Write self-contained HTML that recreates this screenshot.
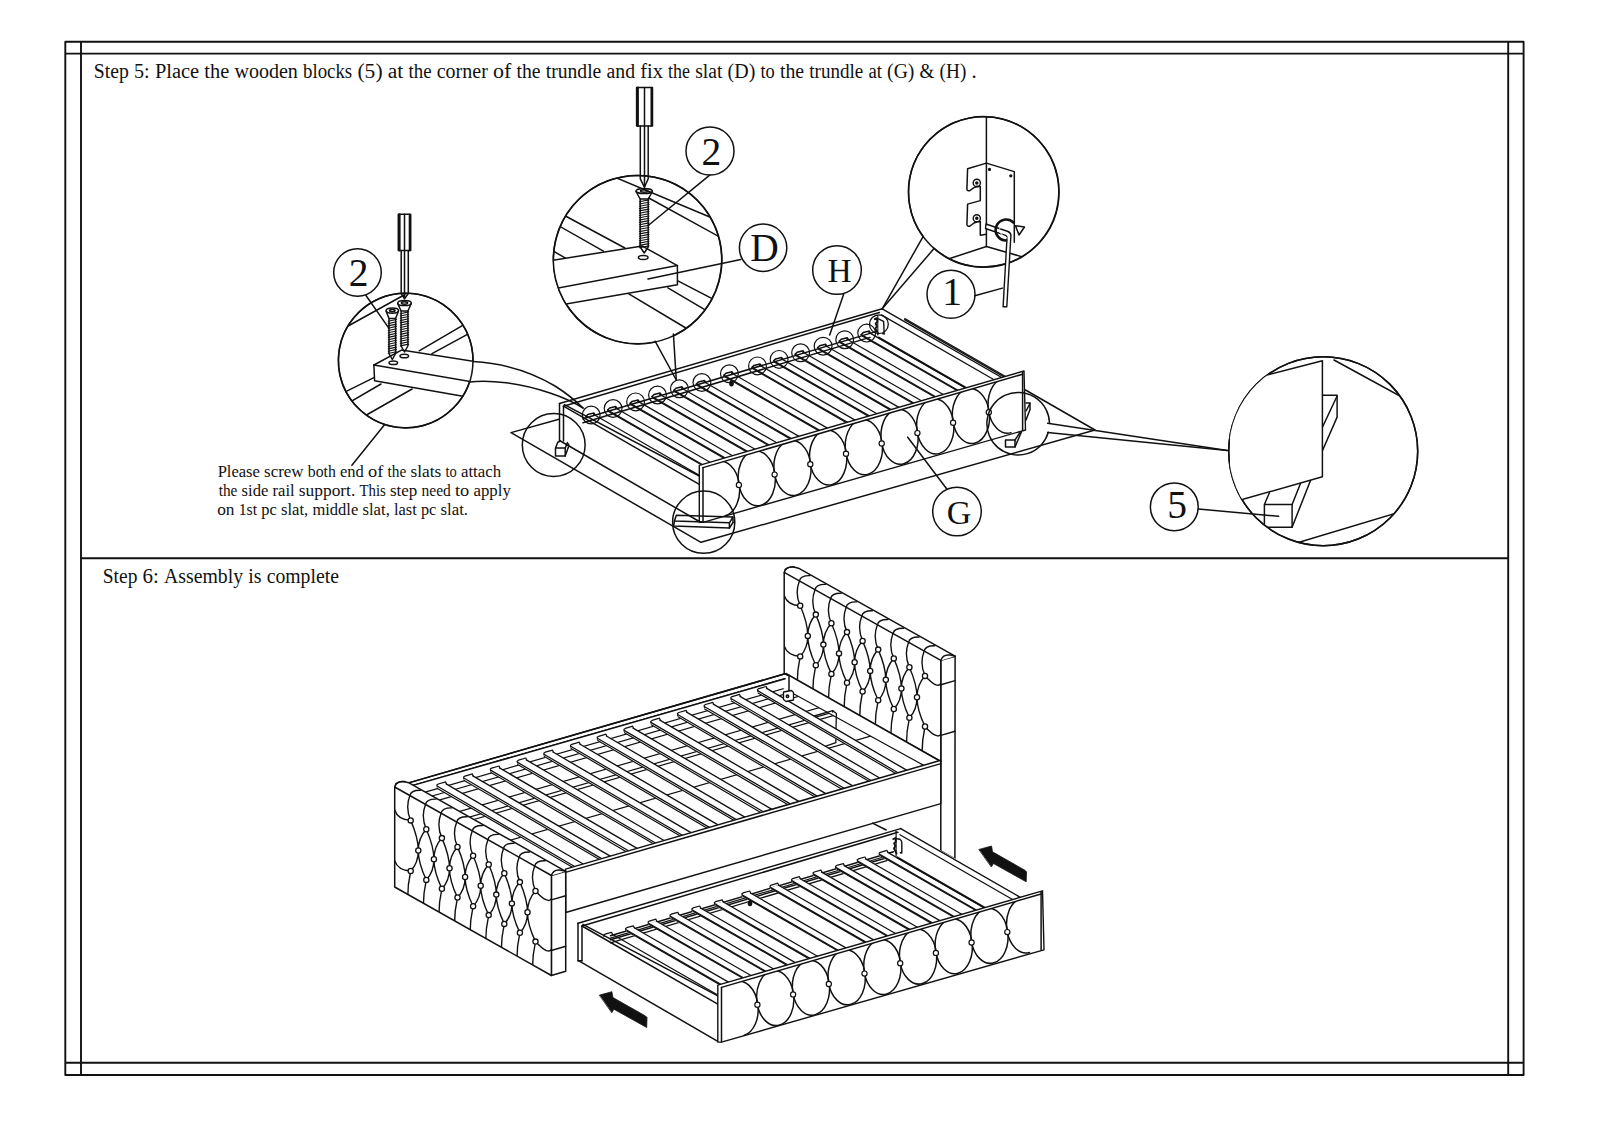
<!DOCTYPE html>
<html><head><meta charset="utf-8"><title>Assembly Step 5-6</title>
<style>
html,body{margin:0;padding:0;background:#fff;}
body{width:1600px;height:1130px;overflow:hidden;position:relative;}
svg{position:absolute;left:0;top:0;}
svg text{font-family:"Liberation Serif",serif;fill:#111;}
.t{font-size:19.8px;}
.s{font-size:16.5px;}
.c{font-size:39.5px;text-anchor:middle;}
</style></head>
<body>
<svg width="1600" height="1130" viewBox="0 0 1600 1130" fill="none" stroke="#111" stroke-width="1.5" stroke-linejoin="round" stroke-linecap="round">
<!-- FRAME -->
<g stroke-width="1.9" stroke-linecap="butt">
<rect x="65.3" y="41.8" width="1458.3" height="1033.2"/>
<line x1="81" y1="41.8" x2="81" y2="1075"/>
<line x1="1508.2" y1="41.8" x2="1508.2" y2="1075"/>
<line x1="65.3" y1="53.6" x2="1523.6" y2="53.6"/>
<line x1="65.3" y1="1062.8" x2="1523.6" y2="1062.8"/>
<line x1="81" y1="558.3" x2="1508.2" y2="558.3"/>
</g>
<!-- TEXT -->
<g stroke="none">
<text class="c" x="358.5" y="285.5">2</text>
<text class="c" x="711.3" y="164.6">2</text>
<text class="c" x="764.4" y="260.8">D</text>
<text class="c" x="839.5" y="281.7" style="font-size:33.5px">H</text>
<text class="c" x="952" y="305.3">1</text>
<text class="c" x="959" y="523.6" style="font-size:34px">G</text>
<text class="c" x="1177" y="518.4">5</text>
</g>
<!-- CALLOUT CIRCLES -->
<circle cx="357.5" cy="272.5" r="23.8"/>
<circle cx="710" cy="151" r="24"/>
<circle cx="763.1" cy="247.7" r="23.7"/>
<circle cx="837" cy="270" r="24.3"/>
<circle cx="951" cy="294.3" r="24"/>
<circle cx="957" cy="511.5" r="24.3"/>
<circle cx="1174.3" cy="506.8" r="23.9"/>
<!-- DETAIL CIRCLES -->
<circle cx="405.7" cy="360.5" r="67.3"/>
<circle cx="637.7" cy="259.6" r="84.2"/>
<circle cx="983.8" cy="192" r="75.2"/>
<circle cx="1323.2" cy="451.2" r="94.5"/>
<g id="texts">
<g stroke="none">
<text class="t" y="78.4" style="font-size:20.8px"><tspan x="93.8" textLength="35.00" lengthAdjust="spacingAndGlyphs">Step</tspan><tspan x="134.0" textLength="15.70" lengthAdjust="spacingAndGlyphs">5:</tspan><tspan x="154.9" textLength="44.20" lengthAdjust="spacingAndGlyphs">Place</tspan><tspan x="204.3" textLength="24.90" lengthAdjust="spacingAndGlyphs">the</tspan><tspan x="234.4" textLength="63.50" lengthAdjust="spacingAndGlyphs">wooden</tspan><tspan x="303.1" textLength="49.10" lengthAdjust="spacingAndGlyphs">blocks</tspan><tspan x="357.4" textLength="25.20" lengthAdjust="spacingAndGlyphs">(5)</tspan><tspan x="387.8" textLength="15.50" lengthAdjust="spacingAndGlyphs">at</tspan><tspan x="408.5" textLength="23.05" lengthAdjust="spacingAndGlyphs">the</tspan><tspan x="436.75" textLength="51.05" lengthAdjust="spacingAndGlyphs">corner</tspan><tspan x="493.0" textLength="18.30" lengthAdjust="spacingAndGlyphs">of</tspan><tspan x="516.5" textLength="24.05" lengthAdjust="spacingAndGlyphs">the</tspan><tspan x="545.75" textLength="55.55" lengthAdjust="spacingAndGlyphs">trundle</tspan><tspan x="606.5" textLength="28.55" lengthAdjust="spacingAndGlyphs">and</tspan><tspan x="640.25" textLength="22.65" lengthAdjust="spacingAndGlyphs">fix</tspan><tspan x="668.1" textLength="21.95" lengthAdjust="spacingAndGlyphs">the</tspan><tspan x="695.25" textLength="27.15" lengthAdjust="spacingAndGlyphs">slat</tspan><tspan x="727.6" textLength="27.70" lengthAdjust="spacingAndGlyphs">(D)</tspan><tspan x="760.5" textLength="14.30" lengthAdjust="spacingAndGlyphs">to</tspan><tspan x="780.0" textLength="24.10" lengthAdjust="spacingAndGlyphs">the</tspan><tspan x="809.3" textLength="53.90" lengthAdjust="spacingAndGlyphs">trundle</tspan><tspan x="868.4" textLength="13.50" lengthAdjust="spacingAndGlyphs">at</tspan><tspan x="887.1" textLength="27.30" lengthAdjust="spacingAndGlyphs">(G)</tspan><tspan x="919.6" textLength="14.80" lengthAdjust="spacingAndGlyphs">&amp;</tspan><tspan x="939.6" textLength="26.70" lengthAdjust="spacingAndGlyphs">(H)</tspan><tspan x="971.5">.</tspan></text>
<text class="t" y="583.3" style="font-size:20.8px"><tspan x="102.8" textLength="34.60" lengthAdjust="spacingAndGlyphs">Step</tspan><tspan x="142.6" textLength="16.30" lengthAdjust="spacingAndGlyphs">6:</tspan><tspan x="164.1" textLength="79.00" lengthAdjust="spacingAndGlyphs">Assembly</tspan><tspan x="248.3" textLength="13.20" lengthAdjust="spacingAndGlyphs">is</tspan><tspan x="266.7" textLength="72.2" lengthAdjust="spacingAndGlyphs">complete</tspan></text>
<text class="s" y="477.2" style="font-size:16.8px"><tspan x="217.7" textLength="42.20" lengthAdjust="spacingAndGlyphs">Please</tspan><tspan x="264.1" textLength="39.45" lengthAdjust="spacingAndGlyphs">screw</tspan><tspan x="307.75" textLength="28.05" lengthAdjust="spacingAndGlyphs">both</tspan><tspan x="340.0" textLength="23.80" lengthAdjust="spacingAndGlyphs">end</tspan><tspan x="368.0" textLength="15.30" lengthAdjust="spacingAndGlyphs">of</tspan><tspan x="387.5" textLength="18.80" lengthAdjust="spacingAndGlyphs">the</tspan><tspan x="410.5" textLength="30.80" lengthAdjust="spacingAndGlyphs">slats</tspan><tspan x="445.5" textLength="11.30" lengthAdjust="spacingAndGlyphs">to</tspan><tspan x="461.0">attach</tspan></text>
<text class="s" y="496.3" style="font-size:16.8px"><tspan x="218.7" textLength="18.70" lengthAdjust="spacingAndGlyphs">the</tspan><tspan x="241.6" textLength="26.70" lengthAdjust="spacingAndGlyphs">side</tspan><tspan x="272.5" textLength="22.10" lengthAdjust="spacingAndGlyphs">rail</tspan><tspan x="298.8" textLength="56.50" lengthAdjust="spacingAndGlyphs">support.</tspan><tspan x="359.5" textLength="26.30" lengthAdjust="spacingAndGlyphs">This</tspan><tspan x="390.0" textLength="27.30" lengthAdjust="spacingAndGlyphs">step</tspan><tspan x="421.5" textLength="29.30" lengthAdjust="spacingAndGlyphs">need</tspan><tspan x="455.0" textLength="14.30" lengthAdjust="spacingAndGlyphs">to</tspan><tspan x="473.5">apply</tspan></text>
<text class="s" y="514.8" style="font-size:16.8px"><tspan x="217.2" textLength="17.30" lengthAdjust="spacingAndGlyphs">on</tspan><tspan x="238.7" textLength="18.40" lengthAdjust="spacingAndGlyphs">1st</tspan><tspan x="261.3" textLength="15.50" lengthAdjust="spacingAndGlyphs">pc</tspan><tspan x="281.0" textLength="27.20" lengthAdjust="spacingAndGlyphs">slat,</tspan><tspan x="312.4" textLength="45.90" lengthAdjust="spacingAndGlyphs">middle</tspan><tspan x="362.5" textLength="27.30" lengthAdjust="spacingAndGlyphs">slat,</tspan><tspan x="394.0" textLength="22.80" lengthAdjust="spacingAndGlyphs">last</tspan><tspan x="421.0" textLength="15.30" lengthAdjust="spacingAndGlyphs">pc</tspan><tspan x="440.5">slat.</tspan></text>
</g>
</g>
<g id="top_details">
<clipPath id="cl1"><circle cx="405.7" cy="360.5" r="67"/></clipPath>
<g clip-path="url(#cl1)">
<line x1="340.0" y1="330.5" x2="405.0" y2="294.5"/>
<line x1="470.0" y1="321.2" x2="419.2" y2="350.8"/>
<line x1="472.0" y1="331.8" x2="432.0" y2="353.6"/>
<line x1="335.0" y1="397.0" x2="373.9" y2="377.7"/>
<line x1="340.0" y1="407.8" x2="381.0" y2="384.0"/>
<line x1="355.0" y1="421.5" x2="412.1" y2="389.0"/>
<path d="M373.9,365.0 L401.5,350.1 L480.0,362.3"/>
<path d="M373.9,365.0 L374.6,380.8 L470.0,397.6"/>
<line x1="373.9" y1="365.0" x2="480.0" y2="383.2"/>
</g>
<path d="M469.5,382.0 A67.3,67.3 0 1 1 473.0,361.5"/>
<path d="M473,361.5 C500,363 530,371 555,386 C566,393 577,402 583,408"/>
<path d="M469.5,382 C490,379.5 520,383 550,393 C562,397 575,403 583,408"/>
<ellipse cx="392.3" cy="310.6" rx="6.2" ry="2.6"/>
<ellipse cx="392.3" cy="310.6" rx="2.8" ry="1.2"/>
<path d="M386.1,311.1 L389.0,318.6 L395.6,318.6 L398.5,311.1"/>
<path d="M389.0,318.6 L389.0,353.5 L392.3,359.5 L395.6,353.5 L395.6,318.6"/>
<path d="M388.2,321.3 L396.4,319.5 M388.2,323.6 L396.4,321.8 M388.2,325.9 L396.4,324.1 M388.2,328.2 L396.4,326.4 M388.2,330.5 L396.4,328.7 M388.2,332.8 L396.4,331.0 M388.2,335.1 L396.4,333.3 M388.2,337.4 L396.4,335.6 M388.2,339.7 L396.4,337.9 M388.2,342.0 L396.4,340.2 M388.2,344.3 L396.4,342.5 M388.2,346.6 L396.4,344.8 M388.2,348.9 L396.4,347.1 M388.2,351.2 L396.4,349.4 M388.2,353.5 L396.4,351.7 " stroke-width="1.1"/>
<ellipse cx="404.5" cy="303.0" rx="6.8" ry="2.6"/>
<ellipse cx="404.5" cy="303.0" rx="3.1" ry="1.2"/>
<path d="M397.7,303.5 L401.1,311.0 L407.9,311.0 L411.3,303.5"/>
<path d="M401.1,311.0 L401.1,346.0 L404.5,352.0 L407.9,346.0 L407.9,311.0"/>
<path d="M400.3,313.7 L408.7,311.9 M400.3,316.0 L408.7,314.2 M400.3,318.3 L408.7,316.5 M400.3,320.6 L408.7,318.8 M400.3,322.9 L408.7,321.1 M400.3,325.2 L408.7,323.4 M400.3,327.5 L408.7,325.7 M400.3,329.8 L408.7,328.0 M400.3,332.1 L408.7,330.3 M400.3,334.4 L408.7,332.6 M400.3,336.7 L408.7,334.9 M400.3,339.0 L408.7,337.2 M400.3,341.3 L408.7,339.5 M400.3,343.6 L408.7,341.8 M400.3,345.9 L408.7,344.1 " stroke-width="1.1"/>
<ellipse cx="393.3" cy="362.8" rx="4.3" ry="1.8"/>
<ellipse cx="404.3" cy="356.0" rx="4.3" ry="1.8"/>
<rect x="398.3" y="214.3" width="12.4" height="36.3" stroke-width="1.5"/>
<line x1="399.6" y1="214.3" x2="399.6" y2="250.6" stroke-width="2"/>
<line x1="409.5" y1="214.3" x2="409.5" y2="250.6" stroke-width="1.6"/>
<line x1="404.5" y1="214.3" x2="404.5" y2="250.6"/>
<path d="M401.2,250.6 L401.2,293.5 L404.5,298.8 L408.3,293.5 L408.3,250.6"/>
<line x1="404.5" y1="250.6" x2="404.5" y2="297.8"/>
<line x1="365.8" y1="295.3" x2="388.8" y2="328.1"/>
<line x1="384.5" y1="424.8" x2="351.9" y2="465.3"/>
<clipPath id="cl2"><circle cx="637.7" cy="259.6" r="84"/></clipPath>
<g clip-path="url(#cl2)">
<line x1="600.0" y1="171.0" x2="730.0" y2="225.5"/>
<line x1="648.8" y1="198.0" x2="725.0" y2="239.9"/>
<line x1="558.0" y1="212.0" x2="624.9" y2="248.0"/>
<line x1="550.0" y1="220.8" x2="603.4" y2="251.2"/>
<line x1="548.0" y1="248.0" x2="565.9" y2="258.4"/>
<line x1="628.0" y1="293.4" x2="690.0" y2="330.5"/>
<line x1="667.9" y1="287.9" x2="712.0" y2="313.8"/>
<line x1="677.4" y1="280.7" x2="716.0" y2="300.7"/>
<path d="M540.0,262.2 L642.4,246.1 L677.4,265.6 L677.4,284.7 L540.0,308.5" fill="#fff"/>
<line x1="545.0" y1="290.5" x2="677.4" y2="265.6"/>
</g>
<path d="M655.2,342.0 A84.2,84.2 0 1 1 674.1,335.5"/>
<line x1="655.1" y1="341.2" x2="676.3" y2="380.0"/>
<line x1="673.4" y1="334.1" x2="676.3" y2="380.0"/>
<ellipse cx="643.2" cy="257.6" rx="4.8" ry="2.0"/>
<line x1="648.0" y1="279.1" x2="740.8" y2="259.4"/>
<line x1="709.7" y1="175.2" x2="648.8" y2="225.0"/>
<ellipse cx="644.2" cy="191.0" rx="8.2" ry="2.6"/>
<ellipse cx="644.2" cy="191.0" rx="3.7" ry="1.2"/>
<path d="M636.0,191.5 L640.2,199.0 L648.2,199.0 L652.4,191.5"/>
<path d="M640.2,199.0 L640.2,247.0 L644.2,253.0 L648.2,247.0 L648.2,199.0"/>
<path d="M639.4,201.7 L649.0,199.9 M639.4,204.0 L649.0,202.2 M639.4,206.3 L649.0,204.5 M639.4,208.6 L649.0,206.8 M639.4,210.9 L649.0,209.1 M639.4,213.2 L649.0,211.4 M639.4,215.5 L649.0,213.7 M639.4,217.8 L649.0,216.0 M639.4,220.1 L649.0,218.3 M639.4,222.4 L649.0,220.6 M639.4,224.7 L649.0,222.9 M639.4,227.0 L649.0,225.2 M639.4,229.3 L649.0,227.5 M639.4,231.6 L649.0,229.8 M639.4,233.9 L649.0,232.1 M639.4,236.2 L649.0,234.4 M639.4,238.5 L649.0,236.7 M639.4,240.8 L649.0,239.0 M639.4,243.1 L649.0,241.3 M639.4,245.4 L649.0,243.6 M639.4,247.7 L649.0,245.9 " stroke-width="1.1"/>
<rect x="636.6" y="87.6" width="15.9" height="38.3" stroke-width="1.5"/>
<line x1="637.9" y1="87.6" x2="637.9" y2="125.9" stroke-width="2"/>
<line x1="651.3" y1="87.6" x2="651.3" y2="125.9" stroke-width="1.6"/>
<line x1="644.5" y1="87.6" x2="644.5" y2="125.9"/>
<path d="M640.3,125.9 L640.3,178.8 L644.5,187.3 L648.2,178.8 L648.2,125.9"/>
<line x1="644.5" y1="125.9" x2="644.5" y2="186.3"/>
<path d="M923.3,236.7 A75.2,75.2 0 1 1 934.1,248.4"/>
<line x1="922.8" y1="237.1" x2="882.2" y2="308.8"/>
<line x1="933.8" y1="248.8" x2="882.2" y2="308.8"/>
<clipPath id="cl3"><circle cx="983.8" cy="192" r="75"/></clipPath>
<g clip-path="url(#cl3)">
<line x1="986.4" y1="110.0" x2="986.4" y2="246.5"/>
<line x1="986.4" y1="246.5" x2="930.0" y2="265.0"/>
<line x1="986.4" y1="246.5" x2="1040.0" y2="262.0"/>
</g>
<path d="M986.4,163.1 L967.6,168.7 L966.9,189.2 Q967.5,191.5 970,190.5 L974,187.6 Q977,186.2 980.3,186.4 L980.3,200.6 L967.6,204.1 L966.9,224.6 Q967.5,227 970,226 L974,223 Q977,221.6 980.3,221.6 L980.3,235.2 L986.4,234.2" stroke-width="1.5"/>
<path d="M986.4,163.1 L1014.3,171.6 L1014.3,242.3" stroke-width="1.5"/>
<circle cx="976.8" cy="182.9" r="3.6" stroke-width="1.4"/>
<circle cx="976.8" cy="182.9" r="1.0" fill="#111"/>
<circle cx="976.8" cy="218.3" r="3.6" stroke-width="1.4"/>
<circle cx="976.8" cy="218.3" r="1.0" fill="#111"/>
<circle cx="989.5" cy="169.4" r="0.9" fill="#111"/>
<circle cx="1010.8" cy="175.8" r="0.9" fill="#111"/>
<path d="M986,224 L1008,231.5 Q1011.5,233 1010.8,237 L1006.8,306.8 L1003.1,306.8 L1007,238 Q1007.2,236 1005.5,235.3 L985.5,228.5 Z" fill="#fff" stroke-width="1.4"/>
<path d="M1013.5,222.5 A10.5,10.5 0 1 0 1006,240.5" stroke-width="2.6"/>
<path d="M1011.5,225.5 Q1003,223 999,229.5 Q1001,236 1007,238" stroke="#fff" stroke-width="1.0"/>
<path d="M1015.5,225.8 L1024.5,227 L1019,235 Z" fill="#fff" stroke-width="1.5"/>
<line x1="974.8" y1="295.8" x2="1002.4" y2="288.1"/>
<circle cx="1323.2" cy="451.2" r="94.5"/>
<clipPath id="cl4"><circle cx="1323.2" cy="451.2" r="94.3"/></clipPath>
<g clip-path="url(#cl4)">
<line x1="1334.0" y1="360.0" x2="1420.0" y2="407.0"/>
<line x1="1290.0" y1="545.0" x2="1430.0" y2="503.0"/>
<path d="M1269.4,492.8 L1264.4,504.5 L1264.4,527.2 L1292.1,527.2 L1292.1,504.5 L1264.4,504.5"/>
<line x1="1292.1" y1="504.5" x2="1300.5" y2="483.5"/>
<line x1="1292.1" y1="527.2" x2="1310.6" y2="480.2"/>
<path d="M1322.4,395.3 L1337.1,395.3 L1337.1,417.1 L1322.4,450.8"/>
<line x1="1337.1" y1="396.0" x2="1322.4" y2="427.2"/>
<path d="M1230.0,384.5 L1322.4,360.8 L1322.4,476.8 L1230.0,503.0" fill="#fff"/>
</g>
<line x1="1047.6" y1="423.3" x2="1227.5" y2="450.5"/>
<line x1="1047.6" y1="432.4" x2="1227.5" y2="450.5"/>
<line x1="1198.2" y1="508.9" x2="1278.7" y2="516.3"/>
</g>
<g id="top_bed">
<path d="M559.0,419.2 L511.0,432.6 L701.0,542.3 L1095.0,430.0 L1025.5,390.0"/>
<line x1="559.5" y1="403.5" x2="882.2" y2="308.8"/>
<line x1="563.5" y1="406.2" x2="879.4" y2="312.5"/>
<line x1="559.5" y1="403.5" x2="559.5" y2="441.0"/>
<line x1="563.5" y1="406.2" x2="563.5" y2="441.0"/>
<path d="M555.5,448.1 L555.5,456.1 L565.2,456.1 L565.2,448.1 L555.5,448.1 L557.8,442.2 L560.4,441.0"/>
<path d="M565.2,456.1 L568.6,446.5 L568.6,444.0"/>
<line x1="565.2" y1="448.1" x2="567.5" y2="442.5"/>
<line x1="563.5" y1="406.2" x2="699.3" y2="484.3"/>
<line x1="564.4" y1="404.6" x2="699.3" y2="476.0"/>
<line x1="560.4" y1="441.0" x2="699.3" y2="521.5"/>
<line x1="583.0" y1="418.7" x2="875.0" y2="331.9"/>
<line x1="583.0" y1="422.7" x2="870.0" y2="337.4"/>
<line x1="593.8" y1="414.5" x2="699.3" y2="475.2" stroke-width="1.25"/>
<path d="M585.8,416.5 L587.8,414.5 L593.8,413.0 L594.8,414.5 L593.8,414.5"/>
<circle cx="591.2" cy="415.0" r="8.9" stroke-width="1.2"/>
<line x1="615.6" y1="408.0" x2="710.0" y2="462.3" stroke-width="1.25"/>
<line x1="607.6" y1="410.0" x2="702.3" y2="464.5" stroke-width="1.25"/>
<line x1="608.5" y1="411.4" x2="701.3" y2="464.8" stroke-width="1.25"/>
<path d="M607.6,410.0 L609.6,408.0 L615.6,406.5 L616.6,408.0 L615.6,408.0"/>
<circle cx="613.1" cy="408.5" r="8.9" stroke-width="1.2"/>
<line x1="638.1" y1="401.4" x2="732.5" y2="455.7" stroke-width="1.25"/>
<line x1="630.1" y1="403.4" x2="724.9" y2="457.9" stroke-width="1.25"/>
<line x1="631.0" y1="404.8" x2="723.9" y2="458.2" stroke-width="1.25"/>
<path d="M630.1,403.4 L632.1,401.4 L638.1,399.9 L639.1,401.4 L638.1,401.4"/>
<circle cx="635.6" cy="401.9" r="8.9" stroke-width="1.2"/>
<line x1="660.0" y1="394.5" x2="755.1" y2="449.2" stroke-width="1.25"/>
<line x1="652.0" y1="396.5" x2="747.4" y2="451.4" stroke-width="1.25"/>
<line x1="652.9" y1="397.9" x2="746.4" y2="451.7" stroke-width="1.25"/>
<path d="M652.0,396.5 L654.0,394.5 L660.0,393.0 L661.0,394.5 L660.0,394.5"/>
<circle cx="657.5" cy="395.0" r="8.9" stroke-width="1.2"/>
<line x1="681.9" y1="388.2" x2="776.8" y2="442.8" stroke-width="1.25"/>
<line x1="673.9" y1="390.2" x2="769.2" y2="445.0" stroke-width="1.25"/>
<line x1="674.8" y1="391.6" x2="768.2" y2="445.3" stroke-width="1.25"/>
<path d="M673.9,390.2 L675.9,388.2 L681.9,386.8 L682.9,388.2 L681.9,388.2"/>
<circle cx="679.4" cy="388.8" r="8.9" stroke-width="1.2"/>
<line x1="704.4" y1="382.0" x2="799.0" y2="436.4" stroke-width="1.25"/>
<line x1="696.4" y1="384.0" x2="791.4" y2="438.6" stroke-width="1.25"/>
<line x1="697.3" y1="385.4" x2="790.3" y2="438.9" stroke-width="1.25"/>
<path d="M696.4,384.0 L698.4,382.0 L704.4,380.5 L705.4,382.0 L704.4,382.0"/>
<circle cx="701.9" cy="382.5" r="8.9" stroke-width="1.2"/>
<line x1="731.9" y1="373.2" x2="827.4" y2="428.1" stroke-width="1.25"/>
<line x1="723.9" y1="375.2" x2="819.7" y2="430.4" stroke-width="1.25"/>
<line x1="724.8" y1="376.6" x2="818.7" y2="430.7" stroke-width="1.25"/>
<path d="M723.9,375.2 L725.9,373.2 L731.9,371.8 L732.9,373.2 L731.9,373.2"/>
<circle cx="729.4" cy="373.8" r="8.9" stroke-width="1.2"/>
<line x1="760.0" y1="365.4" x2="855.1" y2="420.1" stroke-width="1.25"/>
<line x1="752.0" y1="367.4" x2="847.5" y2="422.3" stroke-width="1.25"/>
<line x1="752.9" y1="368.8" x2="846.5" y2="422.6" stroke-width="1.25"/>
<path d="M752.0,367.4 L754.0,365.4 L760.0,363.9 L761.0,365.4 L760.0,365.4"/>
<circle cx="757.5" cy="365.9" r="8.9" stroke-width="1.2"/>
<line x1="781.6" y1="358.9" x2="877.0" y2="413.7" stroke-width="1.25"/>
<line x1="773.6" y1="360.9" x2="869.3" y2="415.9" stroke-width="1.25"/>
<line x1="774.5" y1="362.3" x2="868.3" y2="416.2" stroke-width="1.25"/>
<path d="M773.6,360.9 L775.6,358.9 L781.6,357.4 L782.6,358.9 L781.6,358.9"/>
<circle cx="779.1" cy="359.4" r="8.9" stroke-width="1.2"/>
<line x1="803.1" y1="352.3" x2="898.9" y2="407.4" stroke-width="1.25"/>
<line x1="795.1" y1="354.3" x2="891.2" y2="409.6" stroke-width="1.25"/>
<line x1="796.0" y1="355.7" x2="890.2" y2="409.9" stroke-width="1.25"/>
<path d="M795.1,354.3 L797.1,352.3 L803.1,350.8 L804.1,352.3 L803.1,352.3"/>
<circle cx="800.6" cy="352.8" r="8.9" stroke-width="1.2"/>
<line x1="825.6" y1="345.8" x2="921.4" y2="400.8" stroke-width="1.25"/>
<line x1="817.6" y1="347.8" x2="913.8" y2="403.0" stroke-width="1.25"/>
<line x1="818.5" y1="349.1" x2="912.7" y2="403.3" stroke-width="1.25"/>
<path d="M817.6,347.8 L819.6,345.8 L825.6,344.2 L826.6,345.8 L825.6,345.8"/>
<circle cx="823.1" cy="346.2" r="8.9" stroke-width="1.2"/>
<line x1="847.2" y1="339.2" x2="943.3" y2="394.5" stroke-width="1.25"/>
<line x1="839.2" y1="341.2" x2="935.7" y2="396.7" stroke-width="1.25"/>
<line x1="840.1" y1="342.6" x2="934.6" y2="397.0" stroke-width="1.25"/>
<path d="M839.2,341.2 L841.2,339.2 L847.2,337.7 L848.2,339.2 L847.2,339.2"/>
<circle cx="844.7" cy="339.7" r="8.9" stroke-width="1.2"/>
<line x1="869.2" y1="332.6" x2="965.5" y2="388.0" stroke-width="1.25"/>
<line x1="861.2" y1="334.6" x2="957.9" y2="390.2" stroke-width="1.25"/>
<line x1="862.1" y1="336.0" x2="956.9" y2="390.5" stroke-width="1.25"/>
<path d="M861.2,334.6 L863.2,332.6 L869.2,331.1 L870.2,332.6 L869.2,332.6"/>
<circle cx="866.7" cy="333.1" r="8.9" stroke-width="1.2"/>
<ellipse cx="731.5" cy="383.5" rx="1.6" ry="2.2" fill="#111"/>
<circle cx="878.9" cy="324.2" r="9.4" stroke-width="1.3"/>
<path d="M874.8,319.2 L876.9,318.2 L877.3,321.8 L875.6,323.6 L876.9,326.2 L875.4,328.6 L877,331.5 L878,333.5" stroke-width="1.9"/>
<path d="M878.4,318.9 L883.6,321.3 L884.2,334 L882.4,333.6" stroke-width="1.4"/>
<line x1="877.8" y1="315.5" x2="877.8" y2="335.0" stroke-width="1.1"/>
<line x1="882.2" y1="308.8" x2="1001.7" y2="377.5" stroke-width="1.4"/>
<line x1="904.6" y1="319.7" x2="1004.0" y2="376.8" stroke-width="1.4"/>
<line x1="904.8" y1="318.4" x2="1005.6" y2="376.4" stroke-width="1.2"/>
<line x1="881.4" y1="314.9" x2="994.1" y2="379.7" stroke-width="1.3"/>
<line x1="878.7" y1="337.6" x2="966.1" y2="387.8" stroke-width="2.0"/>
<line x1="843.8" y1="293.8" x2="829.7" y2="335.0"/>
<path d="M699.3,465.3 L1024.0,371.0 L1025.5,430.0 L703.0,522.3 L699.3,522.3 Z" fill="#fff" stroke-width="1.4"/>
<line x1="703.0" y1="467.6" x2="1022.6" y2="374.2"/>
<line x1="703.0" y1="467.6" x2="703.0" y2="522.0"/>
<line x1="1022.6" y1="372.5" x2="1022.6" y2="430.3"/>
<clipPath id="fpclip"><path d="M703,467.6 L1022.6,374.2 L1025.5,430 L702.5,522.3 Z"/></clipPath>
<g clip-path="url(#fpclip)">
<path d="M0,-1 A1,1 0 0 1 0,1" transform="matrix(18.1,-5.26,4.35,27.0,721.05,488.64)" vector-effect="non-scaling-stroke"/>
<path d="M0,-1 A1,1 0 0 1 0,1 A1,1 0 0 1 0,-1" transform="matrix(18.1,-5.26,4.35,27.0,756.75,478.26)" vector-effect="non-scaling-stroke"/>
<path d="M0,-1 A1,1 0 0 1 0,1 A1,1 0 0 1 0,-1" transform="matrix(18.1,-5.26,4.35,27.0,792.45,467.89)" vector-effect="non-scaling-stroke"/>
<path d="M0,-1 A1,1 0 0 1 0,1 A1,1 0 0 1 0,-1" transform="matrix(18.1,-5.26,4.35,27.0,828.15,457.51)" vector-effect="non-scaling-stroke"/>
<path d="M0,-1 A1,1 0 0 1 0,1 A1,1 0 0 1 0,-1" transform="matrix(18.1,-5.26,4.35,27.0,863.85,447.14)" vector-effect="non-scaling-stroke"/>
<path d="M0,-1 A1,1 0 0 1 0,1 A1,1 0 0 1 0,-1" transform="matrix(18.1,-5.26,4.35,27.0,899.55,436.77)" vector-effect="non-scaling-stroke"/>
<path d="M0,-1 A1,1 0 0 1 0,1 A1,1 0 0 1 0,-1" transform="matrix(18.1,-5.26,4.35,27.0,935.25,426.39)" vector-effect="non-scaling-stroke"/>
<path d="M0,-1 A1,1 0 0 1 0,1 A1,1 0 0 1 0,-1" transform="matrix(18.1,-5.26,4.35,27.0,970.95,416.02)" vector-effect="non-scaling-stroke"/>
<path d="M0,1 A1,1 0 0 1 0,-1" transform="matrix(18.1,-5.26,4.35,27.0,1006.65,405.64)" vector-effect="non-scaling-stroke"/>
</g>
<circle cx="738.9" cy="484.9" r="2.6" fill="#fff" stroke-width="1.2"/>
<circle cx="774.6" cy="474.6" r="2.6" fill="#fff" stroke-width="1.2"/>
<circle cx="810.3" cy="464.2" r="2.6" fill="#fff" stroke-width="1.2"/>
<circle cx="846.0" cy="453.8" r="2.6" fill="#fff" stroke-width="1.2"/>
<circle cx="881.7" cy="443.4" r="2.6" fill="#fff" stroke-width="1.2"/>
<circle cx="917.4" cy="433.1" r="2.6" fill="#fff" stroke-width="1.2"/>
<circle cx="953.1" cy="422.7" r="2.6" fill="#fff" stroke-width="1.2"/>
<circle cx="988.8" cy="412.3" r="2.6" fill="#fff" stroke-width="1.2"/>
<line x1="907.7" y1="437.2" x2="946.8" y2="489.0"/>
<path d="M674.5,521.0 L676.3,515.3 L732.9,517.1 L729.4,522.8 L674.5,521.0"/>
<path d="M674.5,521.0 L673.6,525.9 L729.4,528.1 L729.4,522.8"/>
<line x1="729.4" y1="528.1" x2="733.0" y2="522.5"/>
<line x1="733.0" y1="522.5" x2="732.9" y2="517.1"/>
<path d="M1005.5,440.0 L1005.5,447.0 L1015.0,447.0 L1015.0,440.0 L1005.5,440.0" fill="#fff"/>
<line x1="1015.0" y1="440.0" x2="1020.0" y2="432.5"/>
<line x1="1015.0" y1="447.0" x2="1021.3" y2="432.3"/>
<path d="M1026.0,403.0 L1030.0,403.0 L1030.0,409.5 L1026.0,420.0"/>
<line x1="1030.0" y1="403.5" x2="1026.0" y2="411.0"/>
<circle cx="553.7" cy="445.0" r="31.4"/>
<circle cx="703.7" cy="522.2" r="31.1"/>
<path d="M1048.3,432.3 A31.3,31.3 0 1 1 1049.5,423.0"/>
</g>
<g id="bottom_bed">
<path d="M940.8,660.4 L955.1,656.2 L954.9,859.0 L940.8,851.0 Z" fill="#fff"/>
<line x1="940.8" y1="684.8" x2="955.1" y2="680.6"/>
<line x1="940.8" y1="735.4" x2="955.1" y2="731.2"/>
<path d="M784.2,572.4 L786.2,566.4 L793.7,567.1 L798.5,568.2 L955.1,656.2 L940.8,660.4 Z" fill="#fff" stroke="none"/>
<path d="M784.2,572.4 L940.8,660.4 L940.8,761.4 L784.2,673.4 Z" fill="#fff"/>
<path d="M784.2,572.4 Q786.2,565.9 793.7,567.1 L798.5,568.2 L955.1,656.2"/>
<clipPath id="hbc"><path d="M784.2,558.4 L956.1,642.2 L955.1,656.2 L940.8,660.4 L940.8,761.4 L784.2,673.4 Z"/></clipPath>
<g clip-path="url(#hbc)">
<path d="M783.8,572.2 Q784.8,566.7 794.4,566.9 M799.4,580.9 Q800.4,575.4 810.0,575.6 M815.0,589.7 Q816.0,584.2 825.6,584.4 M830.6,598.5 Q831.6,593.0 841.2,593.2 M846.2,607.2 Q847.2,601.7 856.8,601.9 M861.8,616.0 Q862.8,610.5 872.4,610.7 M877.4,624.8 Q878.4,619.3 888.0,619.5 M893.0,633.5 Q894.0,628.0 903.6,628.2 M908.6,642.3 Q909.6,636.8 919.2,637.0 M924.2,651.1 Q925.2,645.6 934.8,645.8 M799.4,580.9 Q794.6,593.4 800.2,605.8 M815.0,589.7 Q810.2,602.1 815.8,614.6 M830.6,598.5 Q825.8,610.9 831.4,623.3 M846.2,607.2 Q841.4,619.7 847.0,632.1 M861.8,616.0 Q857.0,628.4 862.6,640.9 M877.4,624.8 Q872.6,637.2 878.2,649.6 M893.0,633.5 Q888.2,646.0 893.8,658.4 M908.6,642.3 Q903.8,654.7 909.4,667.2 M924.2,651.1 Q919.4,663.5 925.0,675.9 M800.2,656.4 Q794.6,681.7 799.4,706.9 M815.8,665.2 Q810.2,690.4 815.0,715.7 M831.4,673.9 Q825.8,699.2 830.6,724.5 M847.0,682.7 Q841.4,708.0 846.2,733.2 M862.6,691.5 Q857.0,716.7 861.8,742.0 M878.2,700.2 Q872.6,725.5 877.4,750.8 M893.8,709.0 Q888.2,734.3 893.0,759.5 M909.4,717.8 Q903.8,743.0 908.6,768.3 M925.0,726.5 Q919.4,751.8 924.2,777.1 M800.2,605.8 Q815.4,640.6 800.2,656.4 M815.8,614.6 Q799.8,631.9 815.8,665.2 M815.8,614.6 Q831.0,649.4 815.8,665.2 M831.4,623.3 Q815.4,640.6 831.4,673.9 M831.4,623.3 Q846.6,658.2 831.4,673.9 M847.0,632.1 Q831.0,649.4 847.0,682.7 M847.0,632.1 Q862.2,666.9 847.0,682.7 M862.6,640.9 Q846.6,658.2 862.6,691.5 M862.6,640.9 Q877.8,675.7 862.6,691.5 M878.2,649.6 Q862.2,666.9 878.2,700.2 M878.2,649.6 Q893.4,684.5 878.2,700.2 M893.8,658.4 Q877.8,675.7 893.8,709.0 M893.8,658.4 Q909.0,693.2 893.8,709.0 M909.4,667.2 Q893.4,684.5 909.4,717.8 M909.4,667.2 Q924.6,702.0 909.4,717.8 M925.0,675.9 Q909.0,693.2 925.0,726.5 M784.2,595.4 Q787.2,605.0 800.2,605.8 M924.8,675.8 Q937.8,689.6 940.8,683.4 M784.2,646.0 Q787.2,655.6 800.2,656.4 M924.8,726.4 Q937.8,740.2 940.8,734.0 " stroke-width="1.4"/>
</g>
<path d="M940.8,660.4 Q942.8,653.9 950.3,655.1 L955.1,656.2"/>
<circle cx="800.2" cy="605.8" r="2.6" fill="#fff" stroke-width="1.3"/>
<circle cx="815.8" cy="614.6" r="2.6" fill="#fff" stroke-width="1.3"/>
<circle cx="831.4" cy="623.3" r="2.6" fill="#fff" stroke-width="1.3"/>
<circle cx="847.0" cy="632.1" r="2.6" fill="#fff" stroke-width="1.3"/>
<circle cx="862.6" cy="640.9" r="2.6" fill="#fff" stroke-width="1.3"/>
<circle cx="878.2" cy="649.6" r="2.6" fill="#fff" stroke-width="1.3"/>
<circle cx="893.8" cy="658.4" r="2.6" fill="#fff" stroke-width="1.3"/>
<circle cx="909.4" cy="667.2" r="2.6" fill="#fff" stroke-width="1.3"/>
<circle cx="925.0" cy="675.9" r="2.6" fill="#fff" stroke-width="1.3"/>
<circle cx="807.8" cy="635.9" r="2.6" fill="#fff" stroke-width="1.3"/>
<circle cx="823.4" cy="644.6" r="2.6" fill="#fff" stroke-width="1.3"/>
<circle cx="839.0" cy="653.4" r="2.6" fill="#fff" stroke-width="1.3"/>
<circle cx="854.6" cy="662.2" r="2.6" fill="#fff" stroke-width="1.3"/>
<circle cx="870.2" cy="670.9" r="2.6" fill="#fff" stroke-width="1.3"/>
<circle cx="885.8" cy="679.7" r="2.6" fill="#fff" stroke-width="1.3"/>
<circle cx="901.4" cy="688.5" r="2.6" fill="#fff" stroke-width="1.3"/>
<circle cx="917.0" cy="697.2" r="2.6" fill="#fff" stroke-width="1.3"/>
<circle cx="800.2" cy="656.4" r="2.6" fill="#fff" stroke-width="1.3"/>
<circle cx="815.8" cy="665.2" r="2.6" fill="#fff" stroke-width="1.3"/>
<circle cx="831.4" cy="673.9" r="2.6" fill="#fff" stroke-width="1.3"/>
<circle cx="847.0" cy="682.7" r="2.6" fill="#fff" stroke-width="1.3"/>
<circle cx="862.6" cy="691.5" r="2.6" fill="#fff" stroke-width="1.3"/>
<circle cx="878.2" cy="700.2" r="2.6" fill="#fff" stroke-width="1.3"/>
<circle cx="893.8" cy="709.0" r="2.6" fill="#fff" stroke-width="1.3"/>
<circle cx="909.4" cy="717.8" r="2.6" fill="#fff" stroke-width="1.3"/>
<circle cx="925.0" cy="726.5" r="2.6" fill="#fff" stroke-width="1.3"/>
<line x1="409.5" y1="782.6" x2="785.0" y2="673.8"/>
<line x1="409.5" y1="786.4" x2="785.0" y2="678.8"/>
<path d="M409.5,786.4 L785.0,678.8 L789.0,675.3 L940.8,761.5 L940.8,762.0 L565.5,869.1 L551.0,874.0 Z" fill="#fff" stroke="none"/>
<line x1="409.5" y1="782.6" x2="785.0" y2="673.8"/>
<line x1="409.5" y1="786.4" x2="785.0" y2="678.8"/>
<clipPath id="bedin"><path d="M409.5,786.4 L771.4,682 L789,691.2 L923.3,765.1 L565.5,869.1 L551,874 Z"/></clipPath>
<g clip-path="url(#bedin)">
<path d="M420,793.6 L900,655.0 M420,799.5 L900,660.9 M420,805.7 L900,667.1 M420,822.9 L900,684.3 M420,831.4 L900,692.8 M420,835.0 L900,696.4 M420,866.2 L900,727.6 " stroke-width="1.2"/>
<path d="M437.5,786.2 L446.1,783.8 L583.2,864.0 L574.6,868.9 L437.5,788.6 Z" fill="#fff" stroke="none"/>
<line x1="437.5" y1="786.2" x2="574.6" y2="866.5" stroke-width="1.25"/>
<line x1="437.5" y1="788.4" x2="574.6" y2="868.6" stroke-width="1.2"/>
<line x1="446.1" y1="783.8" x2="583.2" y2="864.0" stroke-width="1.35"/>
<path d="M437.2,786.9 L436.9,785.0 L438.3,784.0 L445.7,781.9 L446.4,783.8" stroke-width="1.2"/>
<path d="M464.2,778.3 L472.8,775.8 L610.2,856.1 L601.6,861.0 L464.2,780.7 Z" fill="#fff" stroke="none"/>
<line x1="464.2" y1="778.3" x2="601.6" y2="858.6" stroke-width="1.25"/>
<line x1="464.2" y1="780.4" x2="601.6" y2="860.7" stroke-width="1.2"/>
<line x1="472.8" y1="775.8" x2="610.2" y2="856.1" stroke-width="1.35"/>
<path d="M463.9,778.9 L463.6,777.1 L465.0,776.1 L472.4,773.9 L473.1,775.8" stroke-width="1.2"/>
<path d="M490.9,770.4 L499.5,767.9 L637.1,848.3 L628.5,853.2 L490.9,772.8 Z" fill="#fff" stroke="none"/>
<line x1="490.9" y1="770.4" x2="628.5" y2="850.8" stroke-width="1.25"/>
<line x1="490.9" y1="772.5" x2="628.5" y2="852.9" stroke-width="1.2"/>
<line x1="499.5" y1="767.9" x2="637.1" y2="848.3" stroke-width="1.35"/>
<path d="M490.6,771.0 L490.3,769.1 L491.7,768.1 L499.1,766.0 L499.8,767.9" stroke-width="1.2"/>
<path d="M517.7,762.4 L526.3,759.9 L664.1,840.5 L655.5,845.4 L517.7,764.8 Z" fill="#fff" stroke="none"/>
<line x1="517.7" y1="762.4" x2="655.5" y2="843.0" stroke-width="1.25"/>
<line x1="517.7" y1="764.5" x2="655.5" y2="845.1" stroke-width="1.2"/>
<line x1="526.3" y1="759.9" x2="664.1" y2="840.5" stroke-width="1.35"/>
<path d="M517.4,763.0 L517.1,761.2 L518.5,760.2 L525.9,758.0 L526.6,759.9" stroke-width="1.2"/>
<path d="M544.4,754.5 L553.0,752.0 L691.0,832.7 L682.4,837.6 L544.4,756.9 Z" fill="#fff" stroke="none"/>
<line x1="544.4" y1="754.5" x2="682.4" y2="835.2" stroke-width="1.25"/>
<line x1="544.4" y1="756.6" x2="682.4" y2="837.3" stroke-width="1.2"/>
<line x1="553.0" y1="752.0" x2="691.0" y2="832.7" stroke-width="1.35"/>
<path d="M544.1,755.1 L543.8,753.2 L545.2,752.2 L552.6,750.1 L553.3,752.0" stroke-width="1.2"/>
<path d="M571.1,746.5 L579.7,744.0 L718.0,824.9 L709.4,829.8 L571.1,748.9 Z" fill="#fff" stroke="none"/>
<line x1="571.1" y1="746.5" x2="709.4" y2="827.4" stroke-width="1.25"/>
<line x1="571.1" y1="748.6" x2="709.4" y2="829.5" stroke-width="1.2"/>
<line x1="579.7" y1="744.0" x2="718.0" y2="824.9" stroke-width="1.35"/>
<path d="M570.8,747.1 L570.5,745.3 L571.9,744.3 L579.3,742.1 L580.0,744.0" stroke-width="1.2"/>
<path d="M597.8,738.5 L606.4,736.0 L744.9,817.1 L736.3,822.0 L597.8,740.9 Z" fill="#fff" stroke="none"/>
<line x1="597.8" y1="738.5" x2="736.3" y2="819.6" stroke-width="1.25"/>
<line x1="597.8" y1="740.6" x2="736.3" y2="821.7" stroke-width="1.2"/>
<line x1="606.4" y1="736.0" x2="744.9" y2="817.1" stroke-width="1.35"/>
<path d="M597.5,739.1 L597.2,737.3 L598.6,736.3 L606.0,734.1 L606.7,736.0" stroke-width="1.2"/>
<path d="M624.5,730.6 L633.1,728.1 L771.9,809.3 L763.3,814.2 L624.5,733.0 Z" fill="#fff" stroke="none"/>
<line x1="624.5" y1="730.6" x2="763.3" y2="811.8" stroke-width="1.25"/>
<line x1="624.5" y1="732.7" x2="763.3" y2="813.9" stroke-width="1.2"/>
<line x1="633.1" y1="728.1" x2="771.9" y2="809.3" stroke-width="1.35"/>
<path d="M624.2,731.2 L623.9,729.4 L625.3,728.4 L632.7,726.2 L633.4,728.1" stroke-width="1.2"/>
<path d="M651.3,722.6 L659.9,720.1 L798.8,801.4 L790.2,806.3 L651.3,725.0 Z" fill="#fff" stroke="none"/>
<line x1="651.3" y1="722.6" x2="790.2" y2="803.9" stroke-width="1.25"/>
<line x1="651.3" y1="724.8" x2="790.2" y2="806.0" stroke-width="1.2"/>
<line x1="659.9" y1="720.1" x2="798.8" y2="801.4" stroke-width="1.35"/>
<path d="M651.0,723.2 L650.7,721.4 L652.1,720.4 L659.5,718.2 L660.2,720.1" stroke-width="1.2"/>
<path d="M678.0,714.7 L686.6,712.2 L825.8,793.6 L817.2,798.5 L678.0,717.1 Z" fill="#fff" stroke="none"/>
<line x1="678.0" y1="714.7" x2="817.2" y2="796.1" stroke-width="1.25"/>
<line x1="678.0" y1="716.8" x2="817.2" y2="798.2" stroke-width="1.2"/>
<line x1="686.6" y1="712.2" x2="825.8" y2="793.6" stroke-width="1.35"/>
<path d="M677.7,715.3 L677.4,713.5 L678.8,712.5 L686.2,710.3 L686.9,712.2" stroke-width="1.2"/>
<path d="M704.7,706.8 L713.3,704.2 L852.7,785.8 L844.1,790.7 L704.7,709.1 Z" fill="#fff" stroke="none"/>
<line x1="704.7" y1="706.8" x2="844.1" y2="788.3" stroke-width="1.25"/>
<line x1="704.7" y1="708.9" x2="844.1" y2="790.4" stroke-width="1.2"/>
<line x1="713.3" y1="704.2" x2="852.7" y2="785.8" stroke-width="1.35"/>
<path d="M704.4,707.4 L704.1,705.5 L705.5,704.5 L712.9,702.4 L713.6,704.2" stroke-width="1.2"/>
<path d="M731.4,698.8 L740.0,696.3 L879.7,778.0 L871.1,782.9 L731.4,701.2 Z" fill="#fff" stroke="none"/>
<line x1="731.4" y1="698.8" x2="871.1" y2="780.5" stroke-width="1.25"/>
<line x1="731.4" y1="700.9" x2="871.1" y2="782.6" stroke-width="1.2"/>
<line x1="740.0" y1="696.3" x2="879.7" y2="778.0" stroke-width="1.35"/>
<path d="M731.1,699.4 L730.8,697.6 L732.2,696.6 L739.6,694.4 L740.3,696.3" stroke-width="1.2"/>
<path d="M758.1,690.9 L766.7,688.4 L906.6,770.2 L898.0,775.1 L758.1,693.2 Z" fill="#fff" stroke="none"/>
<line x1="758.1" y1="690.9" x2="898.0" y2="772.7" stroke-width="1.25"/>
<line x1="758.1" y1="693.0" x2="898.0" y2="774.8" stroke-width="1.2"/>
<line x1="766.7" y1="688.4" x2="906.6" y2="770.2" stroke-width="1.35"/>
<path d="M757.8,691.5 L757.5,689.6 L758.9,688.6 L766.3,686.5 L767.0,688.4" stroke-width="1.2"/>
</g>
<line x1="785.9" y1="673.5" x2="940.8" y2="761.5"/>
<line x1="789.0" y1="675.3" x2="789.0" y2="691.2"/>
<line x1="789.0" y1="691.2" x2="923.3" y2="765.1" stroke-width="1.2"/>
<path d="M783.5,692.0 L791.5,690.5 L793.5,692.5 L793.5,700.0 L786.0,701.5 L783.5,699.5 Z" fill="#fff" stroke-width="1.3"/>
<circle cx="787.5" cy="696.3" r="1.2"/>
<path d="M814.2,716.0 L832.8,710.7 L836.4,713.4 L836.0,728.8" stroke-width="1.3"/>
<line x1="832.8" y1="710.7" x2="832.8" y2="712.0"/>
<path d="M825.8,746.1 L835.9,742.6 L835.9,739.5" stroke-width="1.3"/>
<path d="M565.5,869.1 L940.8,760.3 L940.8,803.6 L565.7,912.5 Z" fill="#fff"/>
<line x1="565.5" y1="872.4" x2="940.8" y2="763.6"/>
<line x1="872.5" y1="823.1" x2="886.2" y2="830.0"/>
<path d="M551.4,875.5 L565.7,871.3 L565.7,971.3 L551.4,975.5 Z" fill="#fff"/>
<line x1="551.4" y1="899.9" x2="565.7" y2="895.7"/>
<line x1="551.4" y1="950.5" x2="565.7" y2="946.3"/>
<path d="M394.7,787.0 L396.7,781.0 L404.2,781.7 L409.0,782.8 L565.7,871.3 L551.4,875.5 Z" fill="#fff" stroke="none"/>
<path d="M394.7,787.0 L551.4,875.5 L551.4,975.5 L394.7,887.0 Z" fill="#fff"/>
<path d="M394.7,787.0 Q396.7,780.5 404.2,781.7 L409.0,782.8 L565.7,871.3"/>
<clipPath id="fbc"><path d="M394.7,773.0 L566.7,857.3 L565.7,871.3 L551.4,875.5 L551.4,975.5 L394.7,887.0 Z"/></clipPath>
<g clip-path="url(#fbc)">
<path d="M394.3,786.8 Q395.3,781.3 404.9,781.5 M409.9,795.6 Q410.9,790.1 420.5,790.3 M425.5,804.4 Q426.5,798.9 436.1,799.1 M441.1,813.2 Q442.1,807.7 451.7,807.9 M456.7,822.0 Q457.7,816.5 467.3,816.7 M472.3,830.8 Q473.3,825.3 482.9,825.5 M487.9,839.7 Q488.9,834.2 498.5,834.4 M503.5,848.5 Q504.5,843.0 514.1,843.2 M519.1,857.3 Q520.1,851.8 529.7,852.0 M534.7,866.1 Q535.7,860.6 545.3,860.8 M409.9,795.6 Q405.1,808.0 410.7,820.4 M425.5,804.4 Q420.7,816.8 426.3,829.3 M441.1,813.2 Q436.3,825.6 441.9,838.1 M456.7,822.0 Q451.9,834.5 457.5,846.9 M472.3,830.8 Q467.5,843.3 473.1,855.7 M487.9,839.7 Q483.1,852.1 488.7,864.5 M503.5,848.5 Q498.7,860.9 504.3,873.3 M519.1,857.3 Q514.3,869.7 519.9,882.1 M534.7,866.1 Q529.9,878.5 535.5,891.0 M410.7,871.0 Q405.1,895.8 409.9,920.6 M426.3,879.9 Q420.7,904.6 425.5,929.4 M441.9,888.7 Q436.3,913.4 441.1,938.2 M457.5,897.5 Q451.9,922.3 456.7,947.0 M473.1,906.3 Q467.5,931.1 472.3,955.8 M488.7,915.1 Q483.1,939.9 487.9,964.7 M504.3,923.9 Q498.7,948.7 503.5,973.5 M519.9,932.7 Q514.3,957.5 519.1,982.3 M535.5,941.6 Q529.9,966.3 534.7,991.1 M410.7,820.4 Q425.9,855.3 410.7,871.0 M426.3,829.3 Q410.3,846.5 426.3,879.9 M426.3,829.3 Q441.5,864.1 426.3,879.9 M441.9,838.1 Q425.9,855.3 441.9,888.7 M441.9,838.1 Q457.1,873.0 441.9,888.7 M457.5,846.9 Q441.5,864.1 457.5,897.5 M457.5,846.9 Q472.7,881.8 457.5,897.5 M473.1,855.7 Q457.1,873.0 473.1,906.3 M473.1,855.7 Q488.3,890.6 473.1,906.3 M488.7,864.5 Q472.7,881.8 488.7,915.1 M488.7,864.5 Q503.9,899.4 488.7,915.1 M504.3,873.3 Q488.3,890.6 504.3,923.9 M504.3,873.3 Q519.5,908.2 504.3,923.9 M519.9,882.1 Q503.9,899.4 519.9,932.7 M519.9,882.1 Q535.1,917.0 519.9,932.7 M535.5,891.0 Q519.5,908.2 535.5,941.6 M394.7,810.0 Q397.7,819.6 410.7,820.4 M535.4,890.9 Q548.4,904.7 551.4,898.5 M394.7,860.6 Q397.7,870.2 410.7,871.0 M535.4,941.5 Q548.4,955.3 551.4,949.1 " stroke-width="1.4"/>
</g>
<path d="M551.4,875.5 Q553.4,869.0 560.9,870.2 L565.7,871.3"/>
<circle cx="410.7" cy="820.4" r="2.6" fill="#fff" stroke-width="1.3"/>
<circle cx="426.3" cy="829.3" r="2.6" fill="#fff" stroke-width="1.3"/>
<circle cx="441.9" cy="838.1" r="2.6" fill="#fff" stroke-width="1.3"/>
<circle cx="457.5" cy="846.9" r="2.6" fill="#fff" stroke-width="1.3"/>
<circle cx="473.1" cy="855.7" r="2.6" fill="#fff" stroke-width="1.3"/>
<circle cx="488.7" cy="864.5" r="2.6" fill="#fff" stroke-width="1.3"/>
<circle cx="504.3" cy="873.3" r="2.6" fill="#fff" stroke-width="1.3"/>
<circle cx="519.9" cy="882.1" r="2.6" fill="#fff" stroke-width="1.3"/>
<circle cx="535.5" cy="891.0" r="2.6" fill="#fff" stroke-width="1.3"/>
<circle cx="418.3" cy="850.5" r="2.6" fill="#fff" stroke-width="1.3"/>
<circle cx="433.9" cy="859.3" r="2.6" fill="#fff" stroke-width="1.3"/>
<circle cx="449.5" cy="868.2" r="2.6" fill="#fff" stroke-width="1.3"/>
<circle cx="465.1" cy="877.0" r="2.6" fill="#fff" stroke-width="1.3"/>
<circle cx="480.7" cy="885.8" r="2.6" fill="#fff" stroke-width="1.3"/>
<circle cx="496.3" cy="894.6" r="2.6" fill="#fff" stroke-width="1.3"/>
<circle cx="511.9" cy="903.4" r="2.6" fill="#fff" stroke-width="1.3"/>
<circle cx="527.5" cy="912.2" r="2.6" fill="#fff" stroke-width="1.3"/>
<circle cx="410.7" cy="871.0" r="2.6" fill="#fff" stroke-width="1.3"/>
<circle cx="426.3" cy="879.9" r="2.6" fill="#fff" stroke-width="1.3"/>
<circle cx="441.9" cy="888.7" r="2.6" fill="#fff" stroke-width="1.3"/>
<circle cx="457.5" cy="897.5" r="2.6" fill="#fff" stroke-width="1.3"/>
<circle cx="473.1" cy="906.3" r="2.6" fill="#fff" stroke-width="1.3"/>
<circle cx="488.7" cy="915.1" r="2.6" fill="#fff" stroke-width="1.3"/>
<circle cx="504.3" cy="923.9" r="2.6" fill="#fff" stroke-width="1.3"/>
<circle cx="519.9" cy="932.7" r="2.6" fill="#fff" stroke-width="1.3"/>
<circle cx="535.5" cy="941.6" r="2.6" fill="#fff" stroke-width="1.3"/>
<g transform="translate(18.5,519.8)">
<path d="M559.5,403.5 L882.2,308.8 L1004.0,376.0 L1024.0,371.0 L1025.5,430.0 L702.5,522.3 L560.4,441.0 Z" fill="#fff" stroke="none"/>
<line x1="559.5" y1="403.5" x2="882.2" y2="308.8"/>
<line x1="563.5" y1="406.2" x2="879.4" y2="312.5"/>
<line x1="559.5" y1="403.5" x2="559.5" y2="441.0"/>
<line x1="563.5" y1="406.2" x2="563.5" y2="441.0"/>
<line x1="559.5" y1="441.0" x2="563.5" y2="441.0"/>
<line x1="563.5" y1="406.2" x2="699.3" y2="484.3"/>
<line x1="564.4" y1="404.6" x2="699.3" y2="476.0"/>
<line x1="560.4" y1="441.0" x2="699.3" y2="521.5"/>
<line x1="592.0" y1="416.0" x2="875.0" y2="331.9"/>
<line x1="592.0" y1="420.0" x2="870.0" y2="337.4"/>
<line x1="592.0" y1="418.3" x2="870.0" y2="335.7" stroke-width="1.2"/>
<line x1="592.0" y1="423.0" x2="870.0" y2="340.4" stroke-width="1.3"/>
<line x1="593.8" y1="414.5" x2="699.3" y2="475.2" stroke-width="1.25"/>
<path d="M585.5,416.8 L585.2,415.2 L586.5,414.4 L593.0,412.5 L594.0,414.5" stroke-width="1.2"/>
<path d="M607.6,410.0 L615.6,408.0 L710.0,462.3 L702.3,466.1 L607.6,411.6 Z" fill="#fff" stroke="none"/>
<line x1="615.6" y1="408.0" x2="710.0" y2="462.3" stroke-width="1.25"/>
<line x1="607.6" y1="410.0" x2="702.3" y2="464.5" stroke-width="1.25"/>
<line x1="608.5" y1="411.4" x2="701.3" y2="464.8" stroke-width="1.25"/>
<path d="M607.3,410.3 L607.1,408.7 L608.3,407.9 L614.9,406.0 L615.9,408.0" stroke-width="1.2"/>
<path d="M630.1,403.4 L638.1,401.4 L732.5,455.7 L724.9,459.5 L630.1,405.0 Z" fill="#fff" stroke="none"/>
<line x1="638.1" y1="401.4" x2="732.5" y2="455.7" stroke-width="1.25"/>
<line x1="630.1" y1="403.4" x2="724.9" y2="457.9" stroke-width="1.25"/>
<line x1="631.0" y1="404.8" x2="723.9" y2="458.2" stroke-width="1.25"/>
<path d="M629.8,403.7 L629.6,402.1 L630.8,401.3 L637.4,399.4 L638.4,401.4" stroke-width="1.2"/>
<path d="M652.0,396.5 L660.0,394.5 L755.1,449.2 L747.4,453.0 L652.0,398.1 Z" fill="#fff" stroke="none"/>
<line x1="660.0" y1="394.5" x2="755.1" y2="449.2" stroke-width="1.25"/>
<line x1="652.0" y1="396.5" x2="747.4" y2="451.4" stroke-width="1.25"/>
<line x1="652.9" y1="397.9" x2="746.4" y2="451.7" stroke-width="1.25"/>
<path d="M651.7,396.8 L651.5,395.2 L652.7,394.4 L659.3,392.5 L660.3,394.5" stroke-width="1.2"/>
<path d="M673.9,390.2 L681.9,388.2 L776.8,442.8 L769.2,446.6 L673.9,391.9 Z" fill="#fff" stroke="none"/>
<line x1="681.9" y1="388.2" x2="776.8" y2="442.8" stroke-width="1.25"/>
<line x1="673.9" y1="390.2" x2="769.2" y2="445.0" stroke-width="1.25"/>
<line x1="674.8" y1="391.6" x2="768.2" y2="445.3" stroke-width="1.25"/>
<path d="M673.6,390.6 L673.4,388.9 L674.6,388.1 L681.2,386.2 L682.2,388.2" stroke-width="1.2"/>
<path d="M696.4,384.0 L704.4,382.0 L799.0,436.4 L791.4,440.2 L696.4,385.6 Z" fill="#fff" stroke="none"/>
<line x1="704.4" y1="382.0" x2="799.0" y2="436.4" stroke-width="1.25"/>
<line x1="696.4" y1="384.0" x2="791.4" y2="438.6" stroke-width="1.25"/>
<line x1="697.3" y1="385.4" x2="790.3" y2="438.9" stroke-width="1.25"/>
<path d="M696.1,384.3 L695.9,382.7 L697.1,381.9 L703.7,380.0 L704.7,382.0" stroke-width="1.2"/>
<path d="M723.9,375.2 L731.9,373.2 L827.4,428.1 L819.7,432.0 L723.9,376.9 Z" fill="#fff" stroke="none"/>
<line x1="731.9" y1="373.2" x2="827.4" y2="428.1" stroke-width="1.25"/>
<line x1="723.9" y1="375.2" x2="819.7" y2="430.4" stroke-width="1.25"/>
<line x1="724.8" y1="376.6" x2="818.7" y2="430.7" stroke-width="1.25"/>
<path d="M723.6,375.6 L723.4,373.9 L724.6,373.1 L731.2,371.2 L732.2,373.2" stroke-width="1.2"/>
<path d="M752.0,367.4 L760.0,365.4 L855.1,420.1 L847.5,423.9 L752.0,369.0 Z" fill="#fff" stroke="none"/>
<line x1="760.0" y1="365.4" x2="855.1" y2="420.1" stroke-width="1.25"/>
<line x1="752.0" y1="367.4" x2="847.5" y2="422.3" stroke-width="1.25"/>
<line x1="752.9" y1="368.8" x2="846.5" y2="422.6" stroke-width="1.25"/>
<path d="M751.7,367.7 L751.5,366.1 L752.7,365.3 L759.3,363.4 L760.3,365.4" stroke-width="1.2"/>
<path d="M773.6,360.9 L781.6,358.9 L877.0,413.7 L869.3,417.5 L773.6,362.5 Z" fill="#fff" stroke="none"/>
<line x1="781.6" y1="358.9" x2="877.0" y2="413.7" stroke-width="1.25"/>
<line x1="773.6" y1="360.9" x2="869.3" y2="415.9" stroke-width="1.25"/>
<line x1="774.5" y1="362.3" x2="868.3" y2="416.2" stroke-width="1.25"/>
<path d="M773.3,361.2 L773.1,359.6 L774.3,358.8 L780.9,356.9 L781.9,358.9" stroke-width="1.2"/>
<path d="M795.1,354.3 L803.1,352.3 L898.9,407.4 L891.2,411.2 L795.1,355.9 Z" fill="#fff" stroke="none"/>
<line x1="803.1" y1="352.3" x2="898.9" y2="407.4" stroke-width="1.25"/>
<line x1="795.1" y1="354.3" x2="891.2" y2="409.6" stroke-width="1.25"/>
<line x1="796.0" y1="355.7" x2="890.2" y2="409.9" stroke-width="1.25"/>
<path d="M794.8,354.6 L794.6,353.0 L795.8,352.2 L802.4,350.3 L803.4,352.3" stroke-width="1.2"/>
<path d="M817.6,347.8 L825.6,345.8 L921.4,400.8 L913.8,404.6 L817.6,349.4 Z" fill="#fff" stroke="none"/>
<line x1="825.6" y1="345.8" x2="921.4" y2="400.8" stroke-width="1.25"/>
<line x1="817.6" y1="347.8" x2="913.8" y2="403.0" stroke-width="1.25"/>
<line x1="818.5" y1="349.1" x2="912.7" y2="403.3" stroke-width="1.25"/>
<path d="M817.3,348.1 L817.1,346.4 L818.3,345.6 L824.9,343.8 L825.9,345.8" stroke-width="1.2"/>
<path d="M839.2,341.2 L847.2,339.2 L943.3,394.5 L935.7,398.3 L839.2,342.8 Z" fill="#fff" stroke="none"/>
<line x1="847.2" y1="339.2" x2="943.3" y2="394.5" stroke-width="1.25"/>
<line x1="839.2" y1="341.2" x2="935.7" y2="396.7" stroke-width="1.25"/>
<line x1="840.1" y1="342.6" x2="934.6" y2="397.0" stroke-width="1.25"/>
<path d="M838.9,341.5 L838.7,339.9 L839.9,339.1 L846.5,337.2 L847.5,339.2" stroke-width="1.2"/>
<path d="M861.2,334.6 L869.2,332.6 L965.5,388.0 L957.9,391.8 L861.2,336.2 Z" fill="#fff" stroke="none"/>
<line x1="869.2" y1="332.6" x2="965.5" y2="388.0" stroke-width="1.25"/>
<line x1="861.2" y1="334.6" x2="957.9" y2="390.2" stroke-width="1.25"/>
<line x1="862.1" y1="336.0" x2="956.9" y2="390.5" stroke-width="1.25"/>
<path d="M860.9,334.9 L860.7,333.3 L861.9,332.5 L868.5,330.6 L869.5,332.6" stroke-width="1.2"/>
<ellipse cx="731.5" cy="383.5" rx="1.6" ry="2.2" fill="#111"/>
<path d="M874.8,319.2 L876.9,318.2 L877.3,321.8 L875.6,323.6 L876.9,326.2 L875.4,328.6 L877,331.5 L878,333.5" stroke-width="1.9"/>
<path d="M878.4,318.9 L881.5,319.5 Q883.3,320.5 883.3,323 L883.3,333.2 L881.8,333" stroke-width="1.4"/>
<line x1="877.6" y1="311.5" x2="877.6" y2="336.0" stroke-width="1.2"/>
<line x1="882.2" y1="308.8" x2="1001.7" y2="377.5" stroke-width="1.4"/>
<line x1="881.4" y1="314.9" x2="994.1" y2="379.7" stroke-width="1.3"/>
<line x1="878.7" y1="337.6" x2="966.1" y2="387.8" stroke-width="2.0"/>
<path d="M699.3,465.3 L1024.0,371.0 L1025.5,430.0 L703.0,522.3 L699.3,522.3 Z" fill="#fff" stroke-width="1.4"/>
<line x1="703.0" y1="467.6" x2="1022.6" y2="374.2"/>
<line x1="703.0" y1="467.6" x2="703.0" y2="522.0"/>
<line x1="1022.6" y1="372.5" x2="1022.6" y2="430.3"/>
<clipPath id="fpclip2"><path d="M703,467.6 L1022.6,374.2 L1025.5,430 L702.5,522.3 Z"/></clipPath>
<g clip-path="url(#fpclip2)">
<path d="M0,-1 A1,1 0 0 1 0,1" transform="matrix(18.1,-5.26,4.35,27.0,721.05,488.64)" vector-effect="non-scaling-stroke"/>
<path d="M0,-1 A1,1 0 0 1 0,1 A1,1 0 0 1 0,-1" transform="matrix(18.1,-5.26,4.35,27.0,756.75,478.26)" vector-effect="non-scaling-stroke"/>
<path d="M0,-1 A1,1 0 0 1 0,1 A1,1 0 0 1 0,-1" transform="matrix(18.1,-5.26,4.35,27.0,792.45,467.89)" vector-effect="non-scaling-stroke"/>
<path d="M0,-1 A1,1 0 0 1 0,1 A1,1 0 0 1 0,-1" transform="matrix(18.1,-5.26,4.35,27.0,828.15,457.51)" vector-effect="non-scaling-stroke"/>
<path d="M0,-1 A1,1 0 0 1 0,1 A1,1 0 0 1 0,-1" transform="matrix(18.1,-5.26,4.35,27.0,863.85,447.14)" vector-effect="non-scaling-stroke"/>
<path d="M0,-1 A1,1 0 0 1 0,1 A1,1 0 0 1 0,-1" transform="matrix(18.1,-5.26,4.35,27.0,899.55,436.77)" vector-effect="non-scaling-stroke"/>
<path d="M0,-1 A1,1 0 0 1 0,1 A1,1 0 0 1 0,-1" transform="matrix(18.1,-5.26,4.35,27.0,935.25,426.39)" vector-effect="non-scaling-stroke"/>
<path d="M0,-1 A1,1 0 0 1 0,1 A1,1 0 0 1 0,-1" transform="matrix(18.1,-5.26,4.35,27.0,970.95,416.02)" vector-effect="non-scaling-stroke"/>
<path d="M0,1 A1,1 0 0 1 0,-1" transform="matrix(18.1,-5.26,4.35,27.0,1006.65,405.64)" vector-effect="non-scaling-stroke"/>
</g>
<circle cx="738.9" cy="484.9" r="2.6" fill="#fff" stroke-width="1.2"/>
<circle cx="774.6" cy="474.6" r="2.6" fill="#fff" stroke-width="1.2"/>
<circle cx="810.3" cy="464.2" r="2.6" fill="#fff" stroke-width="1.2"/>
<circle cx="846.0" cy="453.8" r="2.6" fill="#fff" stroke-width="1.2"/>
<circle cx="881.7" cy="443.4" r="2.6" fill="#fff" stroke-width="1.2"/>
<circle cx="917.4" cy="433.1" r="2.6" fill="#fff" stroke-width="1.2"/>
<circle cx="953.1" cy="422.7" r="2.6" fill="#fff" stroke-width="1.2"/>
<circle cx="988.8" cy="412.3" r="2.6" fill="#fff" stroke-width="1.2"/>
</g>
<path d="M599.7,995.1 L611.9,991.7 L612.9,997.5 L645.5,1016.0 L647.0,1017.5 L646.7,1027.5 L613.9,1009.2 L611.9,1012.4 Z" fill="#111" stroke-width="0.8"/>
<path d="M979.2,849.4 L991.5,846.0 L992.5,851.8 L1025.0,870.3 L1026.5,871.8 L1026.2,881.8 L993.5,863.5 L991.5,866.7 Z" fill="#111" stroke-width="0.8"/>
</g></svg>
</body></html>
